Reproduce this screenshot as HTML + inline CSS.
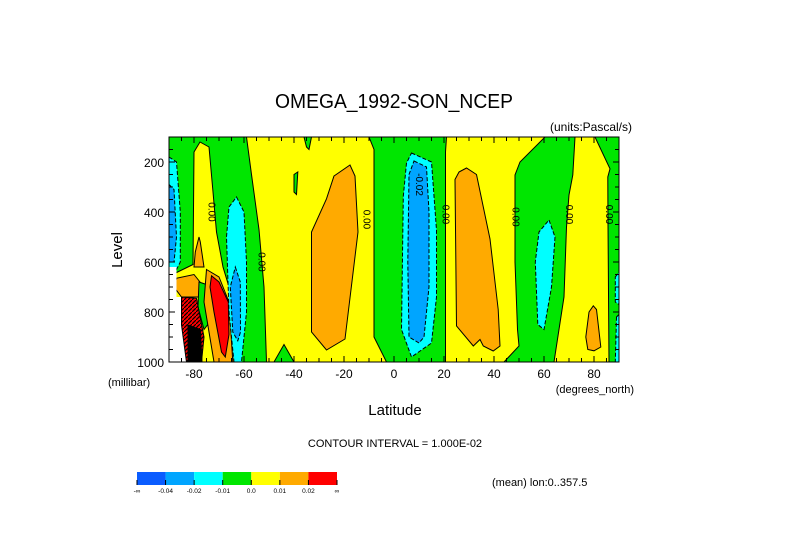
<!DOCTYPE html>
<html><head><meta charset="utf-8">
<style>
html,body{margin:0;padding:0;background:#fff;}
svg{display:block;font-family:"Liberation Sans",sans-serif;}
</style></head>
<body>
<svg id="chart" width="789" height="558" viewBox="0 0 789 558" xmlns="http://www.w3.org/2000/svg">
<text x="394" y="108" font-size="20" text-anchor="middle" font-weight="normal" textLength="238" lengthAdjust="spacingAndGlyphs">OMEGA_1992-SON_NCEP</text>
<text x="632" y="131" font-size="12" text-anchor="end">(units:Pascal/s)</text>
<g id="plot"></g>
<text x="0" y="0" font-size="15" text-anchor="middle" transform="translate(122,250) rotate(-90)">Level</text>
<text x="108" y="386" font-size="11">(millibar)</text>
<text x="634" y="393" font-size="11" text-anchor="end">(degrees_north)</text>
<text x="395" y="415" font-size="15" text-anchor="middle">Latitude</text>
<text x="395" y="447" font-size="11" text-anchor="middle">CONTOUR INTERVAL = 1.000E-02</text>
<text x="492" y="486" font-size="11">(mean) lon:0..357.5</text>
<g id="cbar"></g>
</svg>
<script>
// ---- data ----
const levelColors = ["#0a5cff","#00a5ff","#00ffff","#00e600","#ffff00","#ffaa00","#ff0000"];
const colorbarLabels = ["-\u221e","-0.04","-0.02","-0.01","0.0","0.01","0.02","\u221e"];
const xTicks = [-80,-60,-40,-20,0,20,40,60,80];
const yTicks = [200,400,600,800,1000];
// contour regions: [lat, level] pairs
const yellowA = [[-59,100],[-10,100],[-8,150],[-8,500],[-8,900],[-3,1000],[-40,1000],[-44,930],[-48,1000],[-51,1000],[-52,700],[-54,470],[-57,250]];
const greenSpotA = [[-40,250],[-38.5,240],[-39,330],[-40,320]];
const greenSpotB = [[-36,100],[-33,100],[-34,150],[-35,140]];
const orangeA = [[-24,256],[-17.6,212],[-15.6,256],[-14.4,480],[-19.6,908],[-27,952],[-33,880],[-33,480],[-27,347]];
const yellowLeft = [[-80,160],[-77.6,120],[-74,140],[-72.4,320],[-71,480],[-68.4,620],[-66,700],[-64,1000],[-90,1000],[-90,700],[-88.6,650],[-80.4,610]];
const orangeSmall = [[-78,500],[-77.5,520],[-76,620],[-80,620],[-79.5,560]];
const orangeBand = [[-87,665],[-80,650],[-76,700],[-76,740],[-85,740],[-88,700]];
const greenLeftStrip = [[-78,680],[-75,690],[-74.5,850],[-76,870],[-78.4,780]];
const orangeRed = [[-75,630],[-70,660],[-66,760],[-64.5,1000],[-72,1000],[-76,760]];
const redA = [[-73,655],[-70,680],[-66.3,760],[-66,890],[-67.5,980],[-69,960],[-72,800],[-73.6,700]];
const cyanLeft = [[-90,180],[-87,200],[-85.5,400],[-85.5,600],[-88,650],[-90,650]];
const blueLeft = [[-90,290],[-88,310],[-87,500],[-88,600],[-90,600]];
const whiteLeft = [[-90,620],[-87,620],[-87,740],[-85,740],[-85,852],[-83,852],[-83,1000],[-90,1000]];
const hatchLeft = [[-85,740],[-79,745],[-76,900],[-77,1000],[-83,1000],[-85,852]];
const blackLeft = [[-82.4,852],[-77.5,870],[-76.8,1000],[-82.4,1000]];
const cyanB = [[-63,340],[-60,400],[-59,600],[-59,800],[-61,1000],[-64,1000],[-66,800],[-67,500],[-66,380]];
const blueB = [[-63.5,620],[-61.5,680],[-61.4,880],[-62.5,915],[-64.5,880],[-65.5,700]];
const cyanC = [[7,164],[15,200],[17,472],[17,740],[15,924],[7,980],[3,870],[3.7,337],[5,204]];
const blueC = [[8,196],[13,220],[14,400],[14,700],[12,900],[10,924],[6,900],[5.5,600],[6,250]];
const yellowB = [[21,100],[80.4,100],[86.4,227],[85.5,260],[85.6,447],[86,1000],[20.6,1000],[20.6,160]];
const greenB = [[60.4,100],[72.4,100],[71.5,252],[70,332],[69,460],[68,740],[64,1000],[44,1000],[50,936],[49.4,870],[48.4,600],[48.4,252],[50.4,200]];
const orangeB = [[26,240],[29,224],[33,250],[38.4,508],[41.7,790],[42.4,936],[39.7,956],[35.7,936],[34.4,910],[31.7,936],[25,856],[24.4,270]];
const cyanD = [[62,432],[64.4,500],[63,700],[60,870],[57.5,850],[56.5,600],[58,480]];
const orangeC = [[79.7,775],[81,790],[82.7,940],[80,955],[77.5,950],[76.7,900],[78,800]];
const cyanEdge1 = [[88.5,660],[90,640],[90,770],[88.5,760]];
const cyanEdge2 = [[89,820],[90,810],[90,1000],[88.5,1000]];
const contourLabels = [["0.00",-73,400],["0.00",-53,600],["0.00",-11,430],["-0.02",10,290],["0.00",20.5,410],["0.00",48.5,420],["0.00",70,410],["0.00",86,410]];

// ---- axes ----
const X0=169, X1=619, Y0=137, Y1=362;
const xs = lat => X0 + (lat+90)*(X1-X0)/180;
const ys = lev => Y0 + (lev-100)*(Y1-Y0)/900;
const NS="http://www.w3.org/2000/svg";
const plot=document.getElementById('plot');
function mk(tag,parent){const e=document.createElementNS(NS,tag);parent.appendChild(e);return e;}

const clip=mk('clipPath',plot);clip.setAttribute('id','pc');
const cr=mk('rect',clip);cr.setAttribute('x',X0);cr.setAttribute('y',Y0);cr.setAttribute('width',X1-X0);cr.setAttribute('height',Y1-Y0);
const defs=mk('defs',plot);
const pat=mk('pattern',defs);pat.setAttribute('id','hatch');pat.setAttribute('width','4');pat.setAttribute('height','4');pat.setAttribute('patternUnits','userSpaceOnUse');
const pr=mk('rect',pat);pr.setAttribute('width','4');pr.setAttribute('height','4');pr.setAttribute('fill','#ff0000');
const pl=mk('path',pat);pl.setAttribute('d','M0,4 L4,0');pl.setAttribute('stroke','#000');pl.setAttribute('stroke-width','1.2');

const g=mk('g',plot);g.setAttribute('clip-path','url(#pc)');
const bg=mk('rect',g);


bg.setAttribute('x',X0);bg.setAttribute('y',Y0);bg.setAttribute('width',X1-X0);bg.setAttribute('height',Y1-Y0);bg.setAttribute('fill',levelColors[3]);

const regions=[
 ['yellow-region-sh',yellowA,4,false],['green-spot-a',greenSpotA,3,false],['green-spot-b',greenSpotB,3,false],
 ['orange-region-sh',orangeA,5,false],['yellow-region-polar-south',yellowLeft,4,false],['orange-small-region',orangeSmall,5,false],
 ['orange-band-south',orangeBand,5,false],
 ['green-strip-south',greenLeftStrip,3,false],['orange-around-red',orangeRed,5,false],['red-region',redA,6,false],
 ['cyan-region-left',cyanLeft,2,true],['blue-region-left',blueLeft,1,true],['white-region-left',whiteLeft,-1,false],
 ['hatched-region-left',hatchLeft,-2,false],['black-region-left',blackLeft,-3,false],
 ['cyan-region-b',cyanB,2,true],['blue-region-b',blueB,1,true],['cyan-region-equator',cyanC,2,true],['blue-region-equator',blueC,1,true],
 ['yellow-region-nh',yellowB,4,false],['green-region-nh',greenB,3,false],['orange-region-nh',orangeB,5,false],
 ['cyan-region-d',cyanD,2,true],['orange-region-arctic',orangeC,5,false],['cyan-edge-1',cyanEdge1,2,true],['cyan-edge-2',cyanEdge2,2,true]
];
regions.forEach(r=>{
  const p=mk('polygon',g);
  
  
  p.setAttribute('points',r[1].map(d=>xs(d[0]).toFixed(1)+','+ys(d[1]).toFixed(1)).join(' '));
  const c=r[2];
  p.setAttribute('fill',c>=0?levelColors[c]:(c===-1?'#fff':(c===-2?'url(#hatch)':'#000')));
  p.setAttribute('stroke',c===-1?'none':'#000');p.setAttribute('stroke-width','1');
  if(r[3])p.setAttribute('stroke-dasharray','4,2');
});
contourLabels.forEach(l=>{
  const t=mk('text',g);
  
  
  t.setAttribute('font-size','10');t.setAttribute('text-anchor','middle');
  t.setAttribute('transform','translate('+xs(l[1]).toFixed(1)+','+ys(l[2]).toFixed(1)+') rotate(90)');
  t.setAttribute('y','3');
  t.textContent=l[0];
});
const frame=mk('rect',plot);


frame.setAttribute('x',X0);frame.setAttribute('y',Y0);frame.setAttribute('width',X1-X0);frame.setAttribute('height',Y1-Y0);frame.setAttribute('fill','none');frame.setAttribute('stroke','#000');

let d='';
for(let lat=-85;lat<90;lat+=5){const x=xs(lat);const L=(lat%20===0)?6:4;d+=`M${x},${Y1}v${-L}M${x},${Y0}v${L}`;}
for(let lev=150;lev<1000;lev+=50){const y=ys(lev);const L=(lev%200===0)?6:4;d+=`M${X0},${y}h${L}M${X1},${y}h${-L}`;}
const tk=mk('path',plot);


tk.setAttribute('d',d);tk.setAttribute('stroke','#000');tk.setAttribute('fill','none');

xTicks.forEach(v=>{
  const t=mk('text',plot);
  
  
  t.setAttribute('x',xs(v));t.setAttribute('y',ys(1000)+16);t.setAttribute('font-size','12');t.setAttribute('text-anchor','middle');
  t.textContent=v;
});
yTicks.forEach(v=>{
  const t=mk('text',plot);
  
  
  t.setAttribute('x',X0-5);t.setAttribute('y',ys(v)+5);t.setAttribute('font-size','12');t.setAttribute('text-anchor','end');
  t.textContent=v;
});

// colorbar
const cb=document.getElementById('cbar');
const CBX=137, CBW=200, CBY=472, CBH=13, n=levelColors.length;
levelColors.forEach((c,i)=>{
  const r=mk('rect',cb);
  
  
  r.setAttribute('x',CBX+i*CBW/n);r.setAttribute('y',CBY);r.setAttribute('width',CBW/n);r.setAttribute('height',CBH);r.setAttribute('fill',c);
});
let cd='';
colorbarLabels.forEach((l,i)=>{
  const x=CBX+i*CBW/n;cd+=`M${x},${CBY+CBH-5}v5`;
  const t=mk('text',cb);
  
  
  t.setAttribute('x',x);t.setAttribute('y',CBY+CBH+8);t.setAttribute('font-size','6.5');t.setAttribute('text-anchor','middle');
  t.textContent=l;
});
const cbt=mk('path',cb);


cbt.setAttribute('d',cd);cbt.setAttribute('stroke','#000');
</script>
</body></html>
